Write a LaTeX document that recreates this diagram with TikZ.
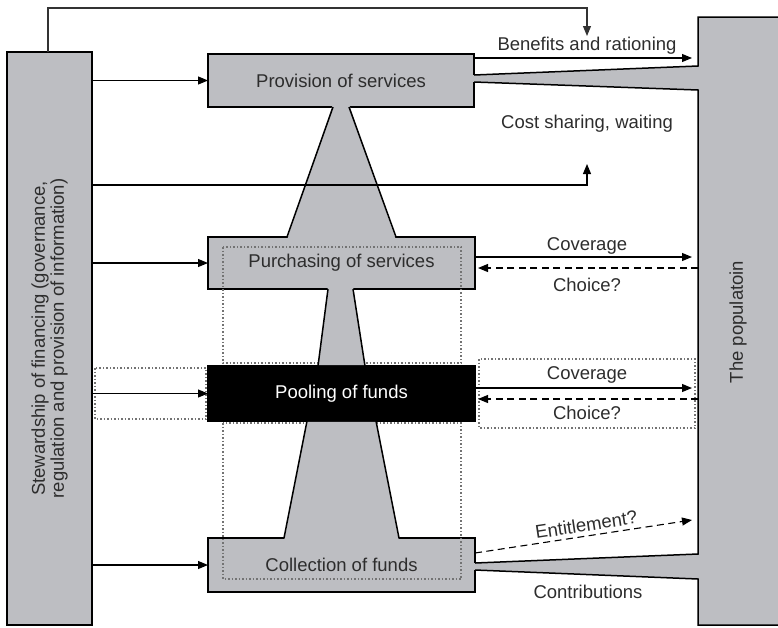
\documentclass[tikz,border=0pt]{standalone}
\usepackage{fontspec}
\setmainfont{Liberation Sans}
\usetikzlibrary{arrows.meta}
\definecolor{boxgray}{RGB}{189,190,194}
\definecolor{txt}{RGB}{45,45,45}
\begin{document}
\begin{tikzpicture}[x=1pt,y=-1pt,
  box/.style={draw=black, fill=boxgray, line width=1.5pt, inner sep=0pt, outer sep=0pt, text=txt, font=\fontsize{18.5}{21}\selectfont},
  lbl/.style={text=txt, font=\fontsize{18.5}{21}\selectfont, inner sep=0pt},
  arr/.style={line width=1.1pt, -{Triangle[length=10pt,width=8pt]}},
  dsh/.style={dash pattern=on 7pt off 4.5pt},
  dotbox/.style={draw=black!55, line width=1.3pt, dash pattern=on 1.5pt off 2pt},
  edge/.style={line width=1.5pt, line join=miter}
]
\useasboundingbox (0,0) rectangle (778,627);
\clip (0,0) rectangle (778,627);

% the population shape (fill)
\fill[boxgray] (474,75) -- (698,66) -- (698,17) -- (790,17) -- (790,625) -- (698,625) -- (698,579) -- (475,570) -- (475,563) -- (698,554) -- (698,90) -- (474,82) -- cycle;

% boxes
\node[box, minimum width=85pt, minimum height=573pt] (stew) at (49.5,338.5) {};
\node[box, minimum width=266pt, minimum height=53pt] (prov) at (341,80.5) {Provision of services};
\node[box, minimum width=267pt, minimum height=52pt] (purch) at (341.5,263) {Purchasing of services};
\node[box, fill=black, text=white, minimum width=267pt, minimum height=55pt] (pool) at (341.5,393.5) {Pooling of funds};
\node[box, minimum width=267pt, minimum height=54pt] (coll) at (341.5,565) {Collection of funds};

% population outline, open where the funnels join
\fill[boxgray] (470,75) rectangle (478,82);
\fill[boxgray] (471,563) rectangle (479,570);
\draw[edge] (474,75) -- (698,66) -- (698,17) -- (790,17) -- (790,625) -- (698,625) -- (698,579) -- (475,570);
\draw[edge] (475,563) -- (698,554) -- (698,90) -- (474,82);

% dotted frames
\draw[dotbox] (223,247) rectangle (461,363);
\draw[dotbox] (223,423) rectangle (461,579);
\draw[dotbox] (95,368) rectangle (206,419);
\draw[dotbox] (479,359) rectangle (695,428);

% vertical funnels
\fill[boxgray] (333,104) -- (349,104) -- (396,240) -- (287,240) -- cycle;
\draw[edge] (333,107) -- (287,237);
\draw[edge] (349,107) -- (396,237);
\fill[boxgray] (328,286) -- (353,286) -- (365,365.2) -- (318,365.2) -- cycle;
\draw[edge] (328,289) -- (318,366);
\draw[edge] (353,289) -- (365,366);
\fill[boxgray] (307,421.8) -- (376,421.8) -- (399,541) -- (284,541) -- cycle;
\draw[edge] (307,421) -- (284,538);
\draw[edge] (376,421) -- (399,538);

% texts of the tall boxes
\node[lbl, rotate=90, align=center, font=\fontsize{18.5}{19}\selectfont] (stewtext) at (stew.center) {Stewardship of financing (governance,\\regulation and provision of information)};
\node[lbl, rotate=90] (poplbl) at (738,322) {The populatoin};

% connectors from stewardship
\coordinate (tstart) at (48,52);
\coordinate (ttip) at (587,36);
\draw[arr, draw=black!80] (tstart) -- ++(0,-44) -| (ttip);
\coordinate (csstart) at (92,185);
\coordinate (cstip) at (587,164);
\draw[arr] (csstart) -| (cstip);
\draw[arr] (stew.east |- prov.west) -- (prov.west);
\draw[arr] (stew.east |- purch.west) -- (purch.west);
\draw[arr] (stew.east |- pool.west) -- (pool.west);
\draw[arr] (stew.east |- coll.west) -- (coll.west);

% connectors to and from the population
\coordinate (b1) at (692,58);
\draw[arr] (prov.east |- b1) -- (b1);
\coordinate (cov1) at (692,257);
\draw[arr] (purch.east |- cov1) -- (cov1);
\coordinate (ch1) at (698,268);
\draw[arr, dsh, shorten >=3pt] (ch1) -- (purch.east |- ch1);
\coordinate (cov2) at (692,388);
\draw[arr] (pool.east |- cov2) -- (cov2);
\coordinate (ch2) at (698,399);
\draw[arr, dsh, shorten >=3pt] (ch2) -- (pool.east |- ch2);
\coordinate (ent0) at (475,553);
\coordinate (ent1) at (692,520);
\draw[arr, dsh] (ent0) -- node[lbl, sloped, above=4pt, pos=0.52] (entlbl) {Entitlement?} (ent1);

% labels
\node[lbl] (benlbl) at (587,46) {Benefits and rationing};
\node[lbl] (cslbl) at (587,124) {Cost sharing, waiting};
\node[lbl] (cov1lbl) at (587,246) {Coverage};
\node[lbl] (ch1lbl) at (587,285) {Choice?};
\node[lbl] (cov2lbl) at (587,375) {Coverage};
\node[lbl] (ch2lbl) at (587,413) {Choice?};
\node[lbl] (contlbl) at (588,592) {Contributions};
\end{tikzpicture}
\end{document}
